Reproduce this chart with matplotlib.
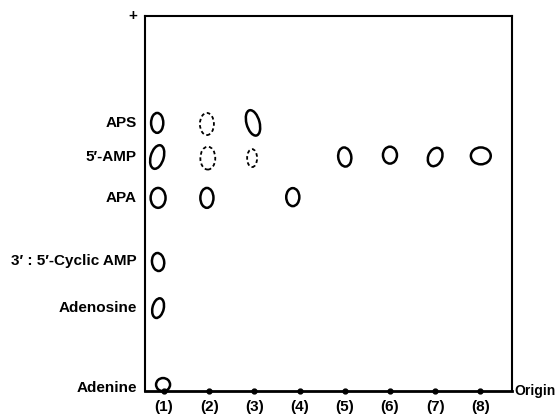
import matplotlib.pyplot as plt
from matplotlib.patches import Ellipse

plt.rcParams['font.family'] = ['Liberation Sans', 'DejaVu Sans']

# lanes (samples) and reference compounds, mobility measured from origin
lanes = [1, 2, 3, 4, 5, 6, 7, 8]
lane_labels = ['(1)', '(2)', '(3)', '(4)', '(5)', '(6)', '(7)', '(8)']
compounds = ['APS', '5′-AMP', 'APA', '3′ : 5′-Cyclic AMP', 'Adenosine', 'Adenine']
compound_y = [7.15, 6.24, 5.15, 3.48, 2.21, 0.08]

# detected spots: x (lane units), y (mobility), width, height, tilt, dashed (faint)
spot_x = [0.85, 0.85, 0.87, 0.87, 0.87, 0.98,
          1.95, 1.97, 1.95,
          2.97, 2.95,
          3.85,
          5.00, 6.00, 7.00, 8.01]
spot_y = [7.15, 6.24, 5.15, 3.44, 2.21, 0.17,
          7.12, 6.21, 5.15,
          7.15, 6.21,
          5.17,
          6.24, 6.29, 6.24, 6.27]
spot_w = [0.27, 0.29, 0.33, 0.27, 0.25, 0.31,
          0.31, 0.33, 0.29,
          0.29, 0.22,
          0.29,
          0.29, 0.31, 0.31, 0.44]
spot_h = [0.53, 0.64, 0.53, 0.48, 0.53, 0.35,
          0.59, 0.61, 0.53,
          0.69, 0.48,
          0.48,
          0.51, 0.45, 0.50, 0.45]
spot_angle = [0, -12, 0, 5, -10, 0,
              0, 0, 0,
              12, 0,
              0,
              5, 0, -15, 0]
spot_dashed = [False, False, False, False, False, False,
               True, True, False,
               False, True,
               False,
               False, False, False, False]

fig = plt.figure(figsize=(5.57, 4.16), dpi=100)
ax = fig.add_axes([0.2603, 0.0601, 0.6589, 0.9014])
ax.set_xlim(0.58, 8.70)
ax.set_ylim(0, 10)
ax.set_xticks([])
ax.set_yticks([])
for side in ['left', 'top', 'right']:
    ax.spines[side].set_linewidth(1.5)
ax.spines['bottom'].set_linewidth(2.0)

# sample application points on the origin line
ax.plot(lanes, [0] * len(lanes), 'o', color='black', ms=3.5, clip_on=False, zorder=5)

for x, y, w, h, a, d in zip(spot_x, spot_y, spot_w, spot_h, spot_angle, spot_dashed):
    e = Ellipse((x, y), w, h, angle=a, fill=False, edgecolor='black',
                lw=1.3 if d else 1.8, linestyle=(0, (2, 1.5)) if d else '-',
                clip_on=False, zorder=4)
    ax.add_patch(e)

for name, y in zip(compounds, compound_y):
    ax.text(0.40, y, name, ha='right', va='center', fontsize=11, fontweight='bold')

for lx, lab in zip(lanes, lane_labels):
    ax.text(lx, -0.43, lab, ha='center', va='center', fontsize=11, fontweight='bold')

ax.text(8.76, 0, 'Origin', ha='left', va='center', fontsize=10, fontweight='bold')
ax.text(0.32, 10.0, '+', ha='center', va='center', fontsize=11, fontweight='bold')

fig.savefig('out.png', dpi=100)
